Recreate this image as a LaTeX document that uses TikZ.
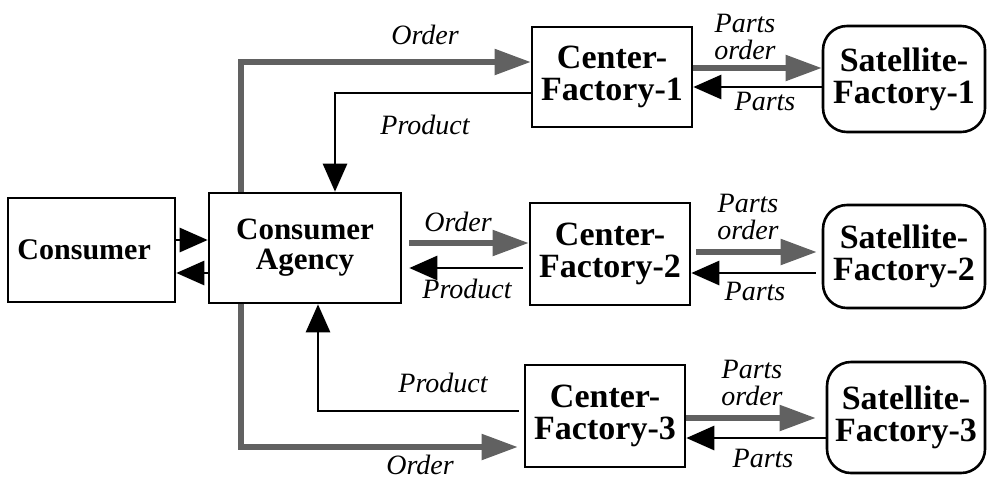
\documentclass[tikz,border=0pt]{standalone}
\usepackage{fontspec}
\setmainfont{Liberation Serif}
\usepackage{tikz}
\usetikzlibrary{calc, arrows.meta, positioning}

\tikzset{
    boxnode/.style={draw, line width=1.3pt, align=center, inner sep=3pt,
        font=\fontsize{17}{16}\selectfont\bfseries},
    satnode/.style={boxnode, rounded corners=12pt},
    lbl/.style={align=center, inner sep=0pt,
        font=\fontsize{14}{13.5}\selectfont\itshape},
    prodflow/.style={line width=1.4pt, -{Triangle[length=14pt,width=12pt]}},
    ordflow/.style={draw=black!62, line width=2.6pt,
        -{Triangle[length=18pt,width=12.5pt,fill=black!62]}},
}

\begin{document}
\begin{tikzpicture}[x=0.5pt, y=-0.5pt]
    \useasboundingbox (0,0) rectangle (988,483);

    % left side
    \node[boxnode, minimum width=83.5pt, minimum height=52pt, text width=74pt,
          align=left, font=\fontsize{15}{15}\selectfont\bfseries]
          (consumer) at (91.5,250) {Consumer};
    \node[boxnode, minimum width=96pt, minimum height=55pt,
          font=\fontsize{15.5}{15}\selectfont\bfseries]
          (agency) at (305,248) {Consumer\\Agency};

    % center factories
    \node[boxnode, minimum width=80pt, minimum height=50pt] (cf1) at (612,77) {Center-\\Factory-1};
    \node[boxnode, minimum width=80pt, minimum height=51pt] (cf2) at (610,254) {Center-\\Factory-2};
    \node[boxnode, minimum width=80pt, minimum height=51pt] (cf3) at (605,416) {Center-\\Factory-3};

    % satellite factories
    \node[satnode, minimum width=81pt, minimum height=53pt] (sf1) at (904,79) {Satellite-\\Factory-1};
    \node[satnode, minimum width=81pt, minimum height=51.5pt] (sf2) at (904,256.5) {Satellite-\\Factory-2};
    \node[satnode, minimum width=79pt, minimum height=55.5pt] (sf3) at (906,417.5) {Satellite-\\Factory-3};

    % consumer <-> agency
    \coordinate (c_in) at (0,240);
    \coordinate (c_out) at (0,273);
    \draw[prodflow] (consumer.east |- c_in) -- (agency.west |- c_in);
    \draw[prodflow] (agency.west |- c_out) -- (consumer.east |- c_out);

    % agency <-> factory 1
    \coordinate (o_1) at (241,62);
    \coordinate (p_1) at (335,93);
    \draw[ordflow] (agency.north -| o_1) |- (cf1.west |- o_1);
    \draw[prodflow] (cf1.west |- p_1) -| (agency.north -| p_1);
    \node[lbl] (_) at (425,35) {Order};
    \node[lbl] (_) at (425,125) {Product};

    % agency <-> factory 2
    \coordinate (o_2) at (0,243);
    \coordinate (p_2) at (0,268);
    \draw[ordflow, shorten <=3.5pt] (agency.east |- o_2) -- (cf2.west |- o_2);
    \draw[prodflow, shorten <=3pt, shorten >=3.5pt] (cf2.west |- p_2) -- (agency.east |- p_2);
    \node[lbl] (_) at (458,222) {Order};
    \node[lbl] (_) at (467,289) {Product};

    % agency <-> factory 3
    \coordinate (o_3) at (241,447);
    \coordinate (p_3) at (318,411);
    \draw[ordflow, shorten >=3pt] (agency.south -| o_3) |- (cf3.west |- o_3);
    \draw[prodflow, shorten <=2.5pt] (cf3.west |- p_3) -| (agency.south -| p_3);
    \node[lbl] (_) at (443,383) {Product};
    \node[lbl] (_) at (420,465) {Order};

    % parts between center and satellite factories
    \draw[ordflow] (cf1.east |- 0,68) -- (sf1.west |- 0,68);
    \draw[prodflow] (sf1.west |- 0,87) -- (cf1.east |- 0,87);
    \node[lbl] (_) at (745,37) {Parts\\order};
    \node[lbl] (_) at (765,101) {Parts};

    \draw[ordflow, shorten <=2.5pt, shorten >=2.5pt] (cf2.east |- 0,252) -- (sf2.west |- 0,252);
    \draw[prodflow, shorten <=3pt] (sf2.west |- 0,273) -- (cf2.east |- 0,273);
    \node[lbl] (_) at (748,217) {Parts\\order};
    \node[lbl] (_) at (755,291) {Parts};

    \draw[ordflow, shorten >=5pt] (cf3.east |- 0,418) -- (sf3.west |- 0,418);
    \draw[prodflow] (sf3.west |- 0,438) -- (cf3.east |- 0,438);
    \node[lbl] (_) at (752,383) {Parts\\order};
    \node[lbl] (_) at (763,458) {Parts};
\end{tikzpicture}
\end{document}
